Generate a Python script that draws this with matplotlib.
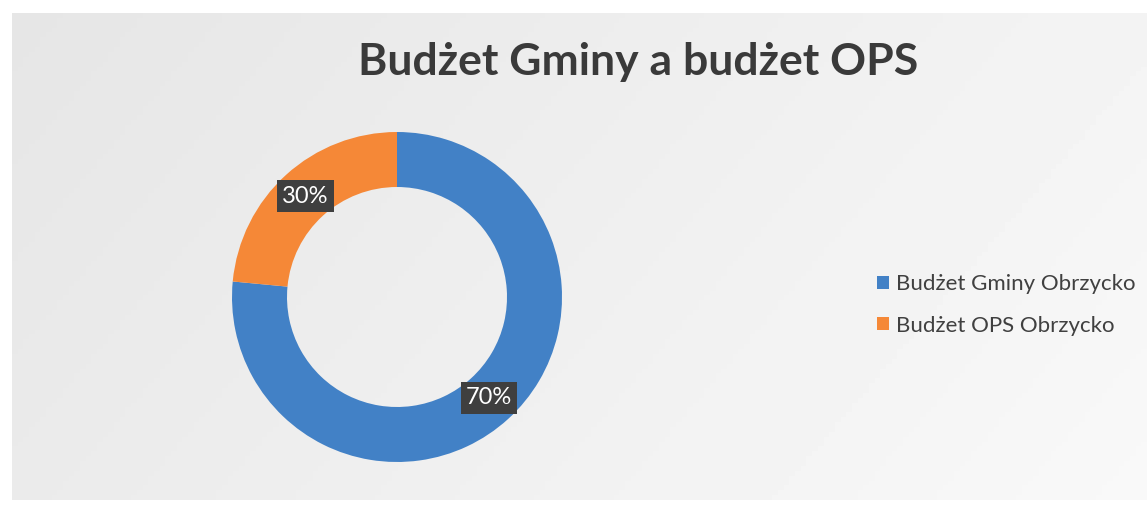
import matplotlib.pyplot as plt
import numpy as np

# dane (udzialy, etykiety jak na oryginale)
categories = ['Budżet Gminy Obrzycko', 'Budżet OPS Obrzycko']
shares = [76.5, 23.5]
labels = ['70%', '30%']
colors = ['#4281c6', '#f58837']
title = 'Budżet Gminy a budżet OPS'

plt.rcParams['font.family'] = ['Lato', 'DejaVu Sans']

fig = plt.figure(figsize=(11.47, 5.07), dpi=100)
fig.patch.set_facecolor('white')

# tlo wykresu (szary gradient)
bg = fig.add_axes([12/1147, 7/507, 1135/1147, 487/507])
gx = np.linspace(0, 1, 200)
gy = np.linspace(0, 1, 100)
GX, GY = np.meshgrid(gx, gy)
grad = 0.90 + 0.055 * GX + 0.02 * GY
bg.imshow(grad, cmap='gray', vmin=0, vmax=1, aspect='auto', extent=[0, 1, 0, 1])
bg.set_axis_off()

# donut
ax = fig.add_axes([(397 - 175)/1147, (507 - 297 - 175)/507, 350/1147, 350/507])
wedges, _ = ax.pie(shares, colors=colors, startangle=90, counterclock=False,
                   radius=165/175, wedgeprops=dict(width=55/175, edgecolor='none'))
ax.set_xlim(-1, 1)
ax.set_ylim(-1, 1)
ax.set_aspect('equal')
ax.set_axis_off()

# etykiety procentowe
for w, lab in zip(wedges, labels):
    ang = np.deg2rad((w.theta1 + w.theta2) / 2)
    r = 0.78
    ax.text(r * np.cos(ang), r * np.sin(ang), lab, ha='center', va='center',
            fontsize=17, color='white',
            bbox=dict(boxstyle='square,pad=0.22', facecolor='#3f3f3f', edgecolor='none'))

fig.text(638/1147, 1 - 62/507, title, ha='center', va='center',
         fontsize=32, fontweight='bold', color='#3a3a3a')

# legenda
leg = fig.legend(wedges, categories, loc='center left',
                 bbox_to_anchor=(877/1147, 1 - 305/507), frameon=False,
                 borderpad=0, borderaxespad=0,
                 fontsize=16, handlelength=0.55, handleheight=0.55,
                 handletextpad=0.3, labelspacing=0.95, labelcolor='#404040')

fig.savefig('out.png', dpi=100)
